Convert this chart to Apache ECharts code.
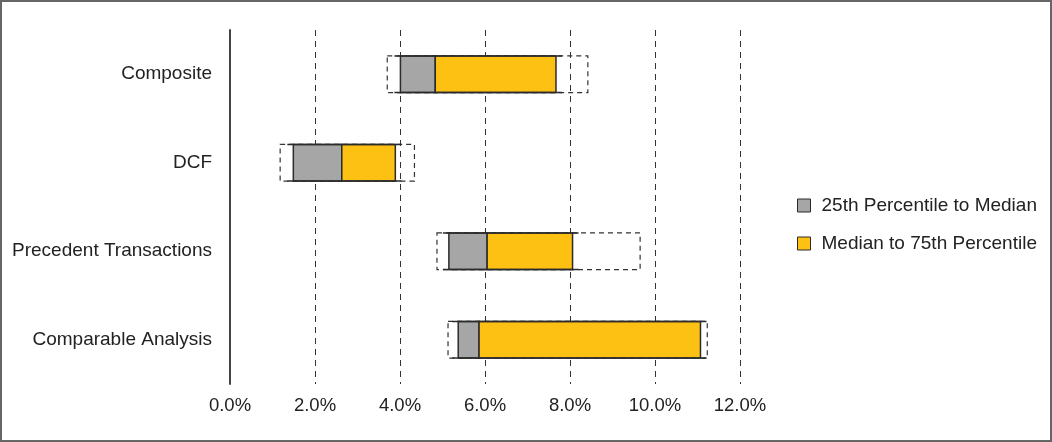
<!DOCTYPE html>
<html>
<head>
<meta charset="utf-8">
<script src="https://cdn.jsdelivr.net/npm/echarts@6/dist/echarts.min.js"></script>
<style>
html,body{margin:0;padding:0;background:#fff;}
#chart{width:1052px;height:442px;}
</style>
</head>
<body>
<div id="chart"></div>
<script>
const categories = ['Composite', 'DCF', 'Precedent Transactions', 'Comparable Analysis'];
const lowValues    = [3.70, 1.18, 4.87, 5.13];
const p25Values    = [4.01, 1.49, 5.15, 5.37];
const medianValues = [4.83, 2.63, 6.05, 5.86];
const p75Values    = [7.67, 3.89, 8.06, 11.07];
const highValues   = [8.42, 4.34, 9.65, 11.23];
const xTicks = [0, 2, 4, 6, 8, 10, 12];
const seriesNames = ['25th Percentile to Median', 'Median to 75th Percentile'];

const rows = categories.map((c, i) => [i, lowValues[i], p25Values[i], medianValues[i], p75Values[i], highValues[i]]);

const FONT = 'Liberation Sans, Arial, Helvetica, sans-serif';
const GRAY = '#a6a6a6';
const ORANGE = '#fdc114';
const EDGE = '#2b2b2b';

function bandInfo(api) {
  const idx = api.value(0);
  const cy = api.coord([0, idx])[1];
  const bw = api.size([0, 1])[1];
  const h = bw * 0.415;
  return { top: cy - h / 2, h: h };
}
function xOf(api, v, idx) { return api.coord([v, idx])[0]; }

function renderRange(params, api) {
  const b = bandInfo(api); const i = api.value(0);
  const x1 = xOf(api, api.value(1), i), x2 = xOf(api, api.value(5), i);
  return { type: 'rect', shape: { x: x1, y: b.top, width: x2 - x1, height: b.h },
    style: { fill: 'none', stroke: '#333', lineWidth: 1.2, lineDash: [5, 4] } };
}
function renderLow(params, api) {
  const b = bandInfo(api); const i = api.value(0);
  const x1 = xOf(api, api.value(2), i), x2 = xOf(api, api.value(3), i);
  return { type: 'rect', shape: { x: x1, y: b.top, width: x2 - x1, height: b.h },
    style: { fill: GRAY, stroke: EDGE, lineWidth: 1.5 } };
}
function renderHigh(params, api) {
  const b = bandInfo(api); const i = api.value(0);
  const x1 = xOf(api, api.value(3), i), x2 = xOf(api, api.value(4), i);
  return { type: 'rect', shape: { x: x1, y: b.top, width: x2 - x1, height: b.h },
    style: { fill: ORANGE, stroke: EDGE, lineWidth: 1.5 } };
}
function renderEdges(params, api) {
  const b = bandInfo(api); const i = api.value(0);
  const x1 = xOf(api, api.value(2), i) - 6, x2 = xOf(api, api.value(4), i) + 6;
  const st = { stroke: EDGE, lineWidth: 1.5 };
  return { type: 'group', children: [
    { type: 'line', shape: { x1: x1, y1: b.top, x2: x2, y2: b.top }, style: st },
    { type: 'line', shape: { x1: x1, y1: b.top + b.h, x2: x2, y2: b.top + b.h }, style: st }
  ] };
}

const chart = echarts.init(document.getElementById('chart'), null, { renderer: 'canvas' });
chart.setOption({
  animation: false,
  backgroundColor: '#fff',
  textStyle: { fontFamily: FONT },
  graphic: [{
    type: 'rect', z: 100, silent: true,
    shape: { x: 1, y: 1, width: 1050, height: 440 },
    style: { fill: 'none', stroke: '#666', lineWidth: 2 }
  }],
  grid: { left: 230, right: 312, top: 30, bottom: 58, containLabel: false },
  legend: {
    orient: 'vertical', left: 797, top: 196, padding: 0,
    itemWidth: 13, itemHeight: 13, itemGap: 19,
    icon: 'rect',
    data: seriesNames,
    itemStyle: { borderColor: EDGE, borderWidth: 1 },
    textStyle: { fontFamily: FONT, fontSize: 19, color: '#222', lineHeight: 19, padding: [0, 0, 0, 6] }
  },
  xAxis: {
    type: 'value', min: xTicks[0], max: xTicks[xTicks.length - 1], interval: 2,
    axisLine: { show: false }, axisTick: { show: false },
    splitLine: { show: true, lineStyle: { color: '#333', type: [6, 5], width: 1 } },
    axisLabel: { margin: 12, fontFamily: FONT, fontSize: 18.5, color: '#222',
      formatter: v => v.toFixed(1) + '%' }
  },
  yAxis: {
    type: 'category', data: categories, inverse: true,
    axisLine: { show: true, lineStyle: { color: '#444', width: 2 } },
    axisTick: { show: false },
    splitLine: { show: false },
    axisLabel: { margin: 18, fontFamily: FONT, fontSize: 19, color: '#222' },
    z: 10
  },
  series: [
    { type: 'custom', name: 'range', renderItem: renderRange, data: rows, z: 2,
      encode: { x: [1, 5], y: 0 } },
    { type: 'custom', name: seriesNames[0], renderItem: renderLow, data: rows, z: 3,
      itemStyle: { color: GRAY }, encode: { x: [2, 3], y: 0 } },
    { type: 'custom', name: seriesNames[1], renderItem: renderHigh, data: rows, z: 3,
      itemStyle: { color: ORANGE }, encode: { x: [3, 4], y: 0 } },
    { type: 'custom', name: 'edges', renderItem: renderEdges, data: rows, z: 4,
      encode: { x: [2, 4], y: 0 } }
  ]
});
</script>
</body>
</html>
